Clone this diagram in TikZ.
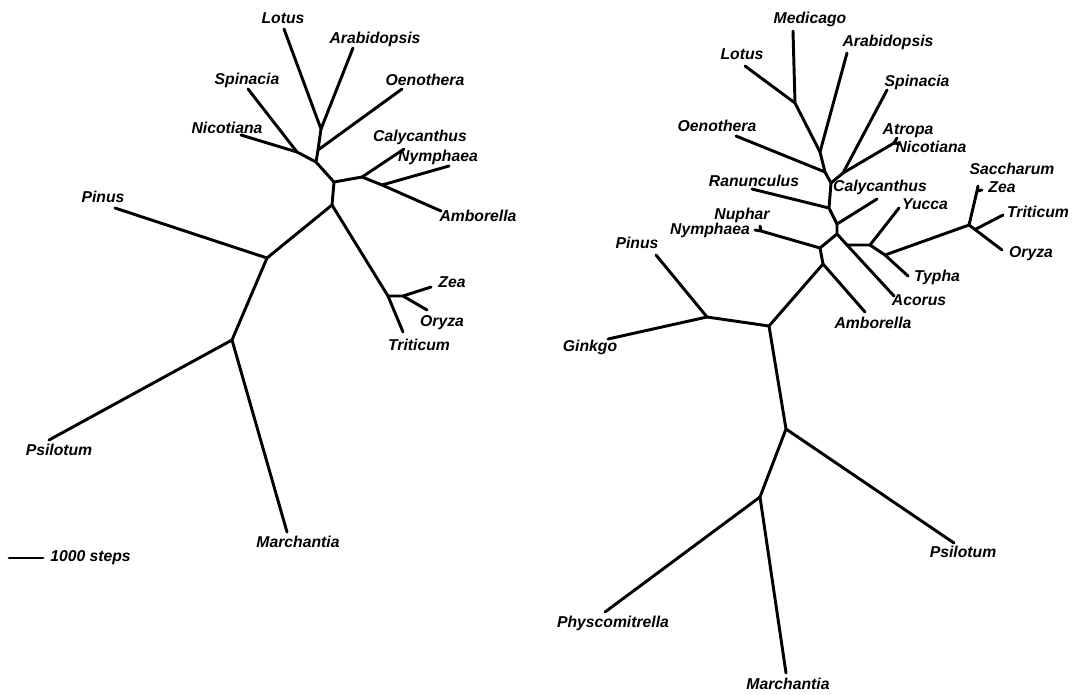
\documentclass[tikz,border=0pt]{standalone}
\usepackage{fontspec}
\setmainfont{Liberation Sans}
\begin{document}
\begin{tikzpicture}[x=0.75pt,y=-0.75pt,
  br/.style={line width=2.2pt,line cap=round,line join=round},
  lab/.style={font=\fontsize{11.8pt}{13pt}\selectfont\bfseries\itshape,inner sep=0pt}]
\useasboundingbox (0,0) rectangle (1073,694);
% ---------- left tree ----------
\coordinate (Llotus) at (284,29);
\coordinate (Lla) at (321,129);
\coordinate (Larab) at (353,48);
\coordinate (Loen) at (402,89);
\coordinate (Loj) at (318,150);
\coordinate (Lsj) at (316,162);
\coordinate (Lsn) at (297,152);
\coordinate (Lspin) at (248,89);
\coordinate (Lnic) at (241,135);
\coordinate (La) at (334,182);
\coordinate (Lb) at (362,177);
\coordinate (Lcaly) at (404,149);
\coordinate (Lnj) at (382,185);
\coordinate (Lnym) at (449,166);
\coordinate (Lamb) at (441,211);
\coordinate (Lc) at (332,205);
\coordinate (Ld) at (267,258);
\coordinate (Lpinus) at (115,208);
\coordinate (Le) at (232,340);
\coordinate (Lpsil) at (49,440);
\coordinate (Lmarch) at (287,532);
\coordinate (Lf) at (388,296);
\coordinate (Lg) at (403,296);
\coordinate (Lzea) at (431,287);
\coordinate (Lory) at (427,310);
\coordinate (Ltrit) at (403,332);
\coordinate (Sa) at (9,558);
\coordinate (Sb) at (43,558);

\draw[br] (Llotus) -- (Lla) -- (Loj) -- (Lsj) -- (La);
\draw[br] (Larab) -- (Lla);
\draw[br] (Loen) -- (Loj);
\draw[br] (Lspin) -- (Lsn) -- (Lsj);
\draw[br] (Lnic) -- (Lsn);
\draw[br] (La) -- (Lb) -- (Lcaly);
\draw[br] (Lb) -- (Lnj) -- (Lamb);
\draw[br] (Lnj) -- (Lnym);
\draw[br] (La) -- (Lc) -- (Ld) -- (Lpinus);
\draw[br] (Ld) -- (Le) -- (Lpsil);
\draw[br] (Le) -- (Lmarch);
\draw[br] (Lc) -- (Lf) -- (Ltrit);
\draw[br] (Lf) -- (Lg) -- (Lzea);
\draw[br] (Lg) -- (Lory);
\draw[br] (Sa) -- (Sb);

\node[lab] (tLlotus) at (283,18) {Lotus};
\node[lab] (tLarab) at (375,39) {Arabidopsis};
\node[lab] (tLspin) at (247,80) {Spinacia};
\node[lab] (tLoen) at (425,80) {Oenothera};
\node[lab] (tLnic) at (227,128) {Nicotiana};
\node[lab] (tLcaly) at (420,137) {Calycanthus};
\node[lab] (tLnym) at (438,157) {Nymphaea};
\node[lab] (tLamb) at (478,216) {Amborella};
\node[lab] (tLpinus) at (103,197) {Pinus};
\node[lab] (tLzea) at (452,282) {Zea};
\node[lab] (tLory) at (442,323) {Oryza};
\node[lab] (tLtrit) at (419,345) {Triticum};
\node[lab] (tLpsil) at (59,450) {Psilotum};
\node[lab] (tLmarch) at (298,542) {Marchantia};
\node[lab,anchor=west] (tscale) at (50,558) {1000 steps};

% ---------- right tree ----------
\coordinate (Rmed) at (793,31);
\coordinate (Rlotus) at (745,66);
\coordinate (Rml) at (795,103);
\coordinate (Rarab) at (847,53);
\coordinate (Raj) at (820,152);
\coordinate (Roen) at (736,136);
\coordinate (Roj) at (825,172);
\coordinate (Rnj) at (831,183);
\coordinate (Rspj) at (843,173);
\coordinate (Rspin) at (887,90);
\coordinate (Ranf) at (894,143);
\coordinate (Ratr) at (897,138);
\coordinate (Rnic) at (900,144);
\coordinate (Rranj) at (829,208);
\coordinate (Rran) at (752,189);
\coordinate (Rcj) at (837,224);
\coordinate (Rcaly) at (877,199);
\coordinate (Rk) at (837,234);
\coordinate (Rnymj) at (820,248);
\coordinate (Rnf) at (761,231);
\coordinate (Rnym) at (755,230);
\coordinate (Rnuf) at (760,226);
\coordinate (Rh) at (823,264);
\coordinate (Ramb) at (865,312);
\coordinate (Racor) at (894,296);
\coordinate (Rm1) at (847,245);
\coordinate (Rm2) at (870,245);
\coordinate (Ryuc) at (899,208);
\coordinate (Rm3) at (885,255);
\coordinate (Rtyp) at (908,276);
\coordinate (Rg) at (969,225);
\coordinate (Rszf) at (977,191);
\coordinate (Rsac) at (978,186);
\coordinate (Rzea) at (982,190);
\coordinate (Rtrj) at (975,229.5);
\coordinate (Rtrit) at (1003,215);
\coordinate (Rory) at (1002,250);
\coordinate (Ri) at (769,326);
\coordinate (Rpg) at (707,317);
\coordinate (Rpinus) at (656,255);
\coordinate (Rginkgo) at (608,339);
\coordinate (Rj) at (786,429);
\coordinate (Rpsil) at (954,543);
\coordinate (Rk2) at (760,497);
\coordinate (Rphys) at (605,612);
\coordinate (Rmarch) at (786,673);

\draw[br] (Rmed) -- (Rml) -- (Raj) -- (Roj) -- (Rnj) -- (Rranj) -- (Rcj) -- (Rk) -- (Rnymj) -- (Rh) -- (Ri) -- (Rj) -- (Rk2) -- (Rmarch);
\draw[br] (Rlotus) -- (Rml);
\draw[br] (Rarab) -- (Raj);
\draw[br] (Roen) -- (Roj);
\draw[br] (Rnj) -- (Rspj) -- (Ranf);
\draw[br] (Rspin) -- (Rspj);
\draw[br] (Ratr) -- (Ranf) -- (Rnic);
\draw[br] (Rran) -- (Rranj);
\draw[br] (Rcj) -- (Rcaly);
\draw[br] (Rnymj) -- (Rnf) -- (Rnym);
\draw[br] (Rnf) -- (Rnuf);
\draw[br] (Rh) -- (Ramb);
\draw[br] (Rk) -- (Rm1) -- (Racor);
\draw[br] (Rm1) -- (Rm2) -- (Ryuc);
\draw[br] (Rm2) -- (Rm3) -- (Rtyp);
\draw[br] (Rm3) -- (Rg) -- (Rszf) -- (Rsac);
\draw[br] (Rszf) -- (Rzea);
\draw[br] (Rg) -- (Rtrj) -- (Rory);
\draw[br] (Rtrj) -- (Rtrit);
\draw[br] (Ri) -- (Rpg) -- (Rpinus);
\draw[br] (Rpg) -- (Rginkgo);
\draw[br] (Rj) -- (Rpsil);
\draw[br] (Rk2) -- (Rphys);

\node[lab] (tRmed) at (810,19) {Medicago};
\node[lab] (tRlotus) at (742,54) {Lotus};
\node[lab] (tRarab) at (888,42) {Arabidopsis};
\node[lab] (tRspin) at (917,82) {Spinacia};
\node[lab] (tRoen) at (717,126) {Oenothera};
\node[lab] (tRatr) at (908,131) {Atropa};
\node[lab] (tRnic) at (931,147) {Nicotiana};
\node[lab] (tRran) at (754,181) {Ranunculus};
\node[lab] (tRcaly) at (880,187) {Calycanthus};
\node[lab] (tRyuc) at (925,204) {Yucca};
\node[lab] (tRsac) at (1012,169) {Saccharum};
\node[lab] (tRzea) at (1002,187) {Zea};
\node[lab] (tRtrit) at (1038,212) {Triticum};
\node[lab] (tRory) at (1031,254) {Oryza};
\node[lab] (tRtyp) at (937,277) {Typha};
\node[lab] (tRacor) at (919,300) {Acorus};
\node[lab] (tRamb) at (873,323) {Amborella};
\node[lab] (tRnuf) at (742,215) {Nuphar};
\node[lab] (tRnym) at (710,230) {Nymphaea};
\node[lab] (tRpinus) at (637,243) {Pinus};
\node[lab] (tRginkgo) at (590,347) {Ginkgo};
\node[lab] (tRpsil) at (963,552) {Psilotum};
\node[lab] (tRphys) at (613,623) {Physcomitrella};
\node[lab] (tRmarch) at (788,684) {Marchantia};
\end{tikzpicture}
\end{document}
